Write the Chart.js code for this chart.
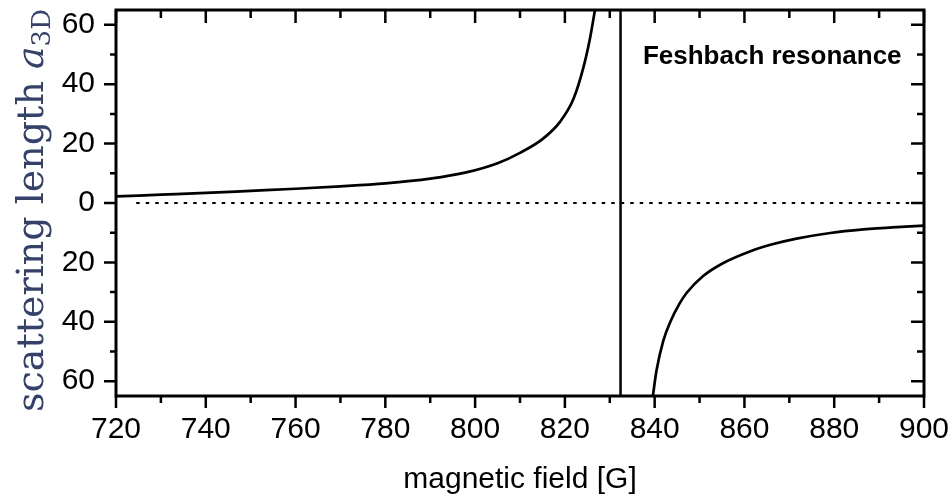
<!DOCTYPE html>
<html>
<head>
<meta charset="utf-8">
<script src="https://cdn.jsdelivr.net/npm/chart.js@4.4.1/dist/chart.umd.min.js"></script>
<style>
  html, body { margin: 0; padding: 0; background: #fff; }
  #wrap { width: 951px; height: 501px; }
</style>
</head>
<body>
<div id="wrap"><canvas id="feshbachChart" width="951" height="501"></canvas></div>
<script>
// values
const leftField = [720, 730, 740, 750, 760, 770, 780, 790, 798, 805, 810, 815, 819, 821.9, 824.1, 825.6, 826.7];
const leftLength = [2.2, 2.8, 3.4, 4.1, 4.8, 5.6, 6.6, 8.2, 10.3, 13.4, 16.9, 21.5, 27.5, 35.0, 45.5, 55.5, 65];

const rightField = [839.6, 840.4, 841.9, 843.5, 845.5, 847.1, 850.8, 855.3, 861.2, 866, 871.6, 879.1, 886.5, 893.9, 900];
const rightLength = [-65, -56.5, -46.5, -40.0, -34.0, -30.3, -24.6, -20.2, -16.3, -14.0, -12.0, -10.1, -8.9, -8.1, -7.6];

const resonanceField = [832.4, 832.4];
const resonanceLength = [-65, 65];

const zeroField = [724.5, 897];
const zeroLength = [0, 0];

const xMajor = [720, 740, 760, 780, 800, 820, 840, 860, 880, 900];
const xMinor = [730, 750, 770, 790, 810, 830, 850, 870, 890];
const yMajor = [-60, -40, -20, 0, 20, 40, 60];
const yMinor = [-50, -30, -10, 10, 30, 50];

const noteText = "Feshbach resonance";
const noteAt = { x: 895.0, y: 46.9 };

const toPoints = (xs, ys) => xs.map((x, i) => ({ x: x, y: ys[i] }));

// frame + ticks (outward on bottom/left, inward on top/right) and extra texts
const framePlugin = {
  id: "frame",
  afterDatasetsDraw(chart) {
    const ctx = chart.ctx;
    const a = chart.chartArea;
    const xs = chart.scales.x;
    const ys = chart.scales.y;
    ctx.save();
    ctx.strokeStyle = "#000";
    ctx.lineCap = "butt";

    ctx.lineWidth = 2.5;
    ctx.beginPath();
    xMajor.concat(xMinor).forEach((v) => {
      const len = xMajor.includes(v) ? 12 : 7;
      const px = xs.getPixelForValue(v);
      ctx.moveTo(px, a.bottom); ctx.lineTo(px, a.bottom + len);
      ctx.moveTo(px, a.top); ctx.lineTo(px, a.top + len + 1);
    });
    yMajor.concat(yMinor).forEach((v) => {
      const len = yMajor.includes(v) ? 12 : 6;
      const py = ys.getPixelForValue(v);
      ctx.moveTo(a.left, py); ctx.lineTo(a.left - len, py);
      ctx.moveTo(a.right, py); ctx.lineTo(a.right - len - 1, py);
    });
    ctx.stroke();

    ctx.lineWidth = 3;
    ctx.strokeRect(a.left, a.top, a.right - a.left, a.bottom - a.top);

    // annotation
    ctx.fillStyle = "#000";
    ctx.font = "bold 26px 'Liberation Sans', Arial, sans-serif";
    ctx.textAlign = "right";
    ctx.textBaseline = "alphabetic";
    ctx.fillText(noteText, xs.getPixelForValue(noteAt.x), ys.getPixelForValue(noteAt.y));

    // y title: scattering length a_3D
    const partMain = "scattering length ";
    const fMain = "38px 'DejaVu Serif', serif";
    const fItal = "italic 38px 'DejaVu Serif', serif";
    const fSub = "26px 'DejaVu Serif', serif";
    ctx.font = fMain; const w1 = ctx.measureText(partMain).width;
    ctx.font = fItal; const w2 = ctx.measureText("a").width;
    ctx.font = fSub; const w3 = ctx.measureText("3D").width;
    const total = w1 + w2 + w3;
    const cy = 210.5;
    ctx.translate(43, cy + total / 2);
    ctx.rotate(-Math.PI / 2);
    ctx.fillStyle = "#33416e";
    ctx.textAlign = "left";
    ctx.font = fMain; ctx.fillText(partMain, 0, 0);
    ctx.font = fItal; ctx.fillText("a", w1, 0);
    ctx.font = fSub; ctx.fillText("3D", w1 + w2, 7);
    ctx.restore();
  },
};

const ctx = document.getElementById("feshbachChart").getContext("2d");
new Chart(ctx, {
  type: "scatter",
  data: {
    datasets: [
      {
        label: "zero",
        data: toPoints(zeroField, zeroLength),
        showLine: true,
        borderColor: "#000",
        borderWidth: 2,
        borderDash: [3.5, 6],
        pointRadius: 0,
      },
      {
        label: "resonance",
        data: toPoints(resonanceField, resonanceLength),
        showLine: true,
        borderColor: "#000",
        borderWidth: 2.5,
        pointRadius: 0,
      },
      {
        label: "below",
        data: toPoints(leftField, leftLength),
        showLine: true,
        borderColor: "#000",
        borderWidth: 2.7,
        cubicInterpolationMode: "monotone",
        pointRadius: 0,
      },
      {
        label: "above",
        data: toPoints(rightField, rightLength),
        showLine: true,
        borderColor: "#000",
        borderWidth: 2.7,
        cubicInterpolationMode: "monotone",
        pointRadius: 0,
      },
    ],
  },
  options: {
    responsive: false,
    animation: false,
    devicePixelRatio: 1,
    layout: { padding: { top: 10, right: 27, left: 0, bottom: 0 } },
    scales: {
      x: {
        type: "linear",
        min: 720,
        max: 900,
        afterFit: (s) => {
          s.height = 105;
          s.paddingLeft = 0;
          s.paddingRight = 0;
        },
        afterBuildTicks: (s) => { s.ticks = xMajor.map((v) => ({ value: v })); },
        grid: { display: false, drawTicks: false },
        border: { display: false },
        ticks: {
          color: "#000",
          padding: 16,
          maxRotation: 0,
          font: { family: "'Liberation Sans', Arial, sans-serif", size: 30 },
        },
        title: {
          display: true,
          text: "magnetic field [G]",
          color: "#000",
          padding: { top: 0, bottom: 3 },
          font: { family: "'Liberation Sans', Arial, sans-serif", size: 30 },
        },
      },
      y: {
        type: "linear",
        min: -65,
        max: 65,
        afterFit: (s) => {
          s.width = 116;
          s.paddingTop = 0;
          s.paddingBottom = 0;
        },
        afterBuildTicks: (s) => { s.ticks = yMajor.map((v) => ({ value: v })); },
        grid: { display: false, drawTicks: false },
        border: { display: false },
        ticks: {
          color: "#000",
          padding: 21,
          callback: (v) => String(Math.abs(v)),
          font: { family: "'Liberation Sans', Arial, sans-serif", size: 30 },
        },
      },
    },
    plugins: {
      legend: { display: false },
      tooltip: { enabled: false },
    },
  },
  plugins: [framePlugin],
});
</script>
</body>
</html>
